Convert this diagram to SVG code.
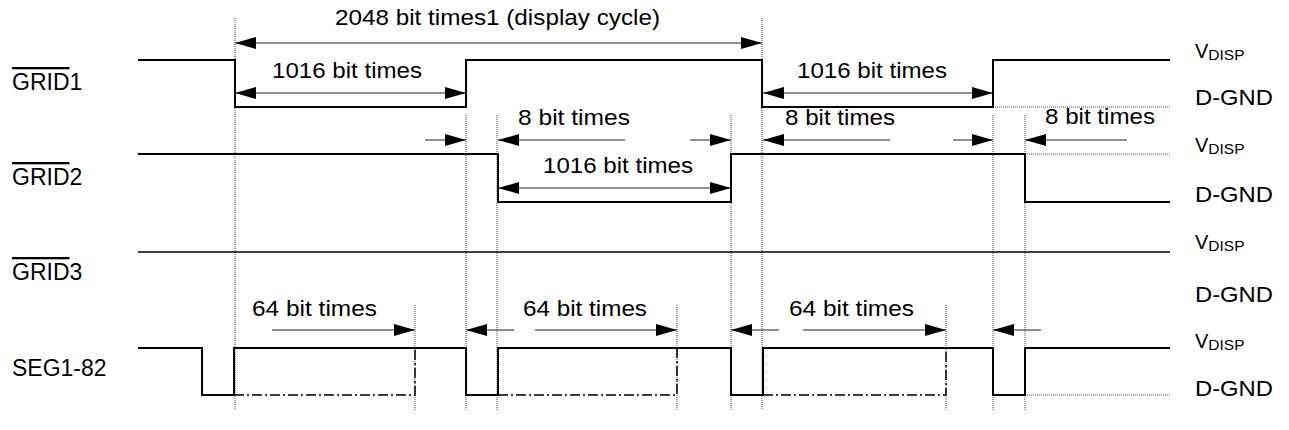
<svg xmlns="http://www.w3.org/2000/svg" width="1289" height="430" viewBox="0 0 1289 430">
<style>
text{font-family:"Liberation Sans",Arial,sans-serif;fill:#000}
.t{font-size:22px}
.lbl{font-size:23px}
.v{font-size:20px}
.sub{font-size:15.5px}
.sig{fill:none;stroke:#000;stroke-width:2}
.sig1{fill:none;stroke:#000;stroke-width:1.5}
.dot{fill:none;stroke:#444;stroke-width:1;stroke-dasharray:1 1}
.dd{fill:none;stroke:#000;stroke-width:1.5;stroke-dasharray:10 3 2 3}
.arr{fill:none;stroke:#222;stroke-width:1.2;marker-end:url(#ah)}
.arr2{fill:none;stroke:#222;stroke-width:1.2;marker-end:url(#ah);marker-start:url(#ah)}
.ov{text-decoration:overline}
</style>
<defs>
<marker id="ah" viewBox="0 0 21 12" refX="21" refY="6" markerUnits="userSpaceOnUse" markerWidth="21" markerHeight="12" orient="auto-start-reverse">
<path d="M0,0 L21,6 L0,12 z" fill="#000"/>
</marker>
</defs>

<g id="guides">
<path class="dot" d="M235,18V410 M762,18V410 M466,115V410 M497,115V410 M731,115V410 M993,115V410 M1025,115V410 M415,305V410 M677,305V410 M946,305V410"/>
<path class="dot" d="M993,107H1170 M1025,154H1170 M1025,395H1170"/>
</g>

<g id="grid1">
<text class="lbl" x="12" y="90"><tspan class="ov">GRID</tspan>1</text>
<path class="sig" d="M138,60H235V107H466V60H762V107H993V60H1170"/>
</g>
<g id="grid2">
<text class="lbl" x="12" y="185"><tspan class="ov">GRID</tspan>2</text>
<path class="sig" d="M138,154H498V202H731V154H1025V202H1170"/>
</g>
<g id="grid3">
<text class="lbl" x="12" y="280"><tspan class="ov">GRID</tspan>3</text>
<path class="sig1" d="M138,252H1170"/>
</g>
<g id="seg">
<text class="lbl" x="12" y="376">SEG1-82</text>
<path class="sig" d="M138,348H202V395H234V348H466V395H498V348H731V395H763V348H993V395H1025V348H1170"/>
<path class="dd" d="M234,395H415V348 M498,395H677V348 M763,395H946V348"/>
</g>

<g id="levels">
<text class="v" x="1195" y="58">V<tspan class="sub" dy="2">DISP</tspan></text>
<text class="t" x="1195" y="105" textLength="78" lengthAdjust="spacingAndGlyphs">D-GND</text>
<text class="v" x="1195" y="152">V<tspan class="sub" dy="2">DISP</tspan></text>
<text class="t" x="1195" y="202" textLength="78" lengthAdjust="spacingAndGlyphs">D-GND</text>
<text class="v" x="1195" y="249">V<tspan class="sub" dy="2">DISP</tspan></text>
<text class="t" x="1195" y="302" textLength="78" lengthAdjust="spacingAndGlyphs">D-GND</text>
<text class="v" x="1195" y="348">V<tspan class="sub" dy="2">DISP</tspan></text>
<text class="t" x="1195" y="396" textLength="78" lengthAdjust="spacingAndGlyphs">D-GND</text>
</g>

<g id="connectors">
<path class="arr2" d="M235,43H762"/>
<path class="arr2" d="M235,93H466"/>
<path class="arr2" d="M763,93H993"/>
<path class="arr2" d="M498,188H731"/>
<path class="arr" d="M425,140H466"/>
<path class="arr" d="M625,140H498"/>
<path class="arr" d="M690,140H731"/>
<path class="arr" d="M890,140H763"/>
<path class="arr" d="M953,140H993"/>
<path class="arr" d="M1127,140H1025"/>
<path class="arr" d="M272,330H415"/>
<path class="arr" d="M514,330H466"/>
<path class="arr" d="M535,330H677"/>
<path class="arr" d="M779,330H731"/>
<path class="arr" d="M803,330H946"/>
<path class="arr" d="M1041,330H993"/>
</g>

<g id="dims">
<text class="t" x="335" y="25" textLength="325" lengthAdjust="spacingAndGlyphs">2048 bit times1 (display cycle)</text>
<text class="t" x="272" y="78" textLength="150" lengthAdjust="spacingAndGlyphs">1016 bit times</text>
<text class="t" x="797" y="78" textLength="150" lengthAdjust="spacingAndGlyphs">1016 bit times</text>
<text class="t" x="518" y="125" textLength="112" lengthAdjust="spacingAndGlyphs">8 bit times</text>
<text class="t" x="785" y="125" textLength="110" lengthAdjust="spacingAndGlyphs">8 bit times</text>
<text class="t" x="1045" y="124" textLength="110" lengthAdjust="spacingAndGlyphs">8 bit times</text>
<text class="t" x="543" y="173" textLength="150" lengthAdjust="spacingAndGlyphs">1016 bit times</text>
<text class="t" x="252" y="316" textLength="125" lengthAdjust="spacingAndGlyphs">64 bit times</text>
<text class="t" x="523" y="316" textLength="124" lengthAdjust="spacingAndGlyphs">64 bit times</text>
<text class="t" x="789" y="316" textLength="125" lengthAdjust="spacingAndGlyphs">64 bit times</text>
</g>
</svg>
